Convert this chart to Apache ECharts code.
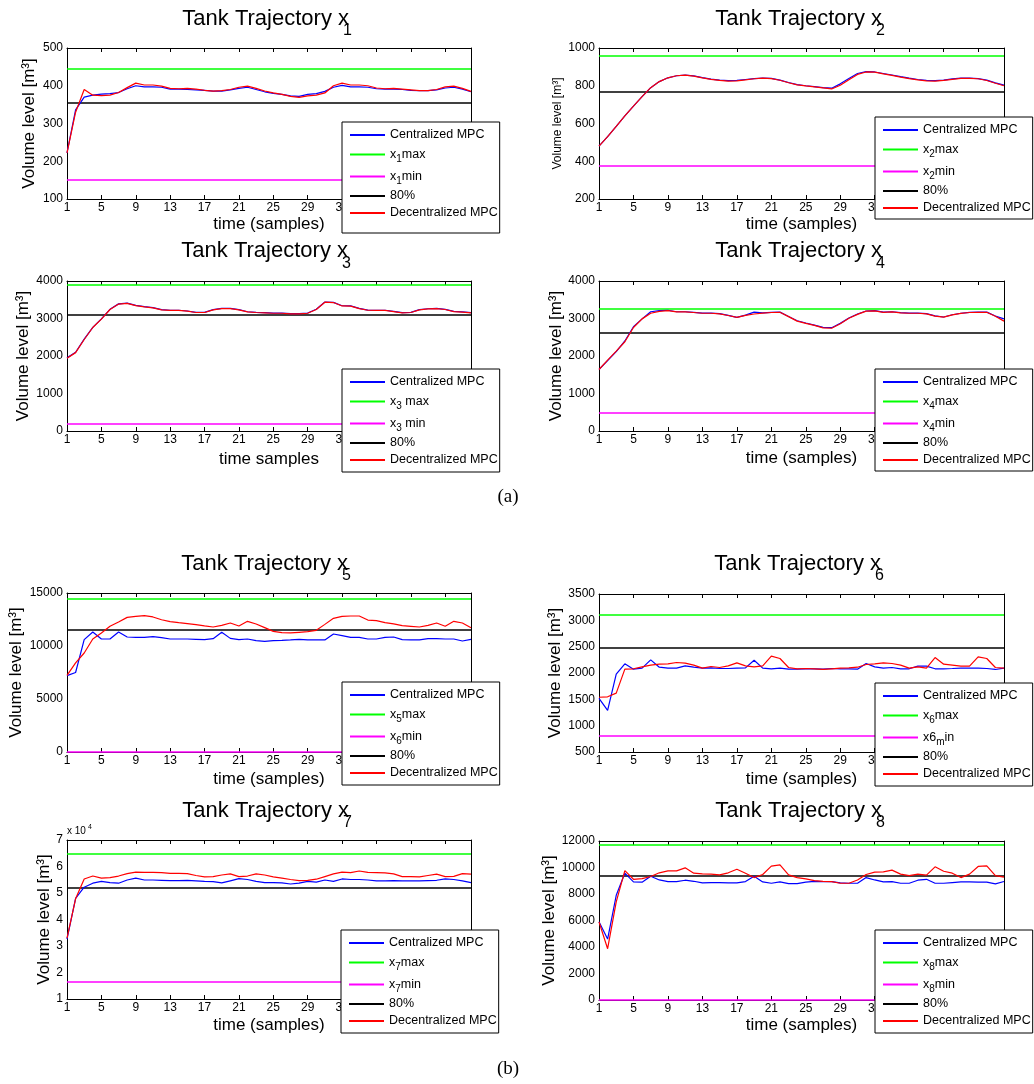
<!DOCTYPE html>
<html><head><meta charset="utf-8">
<script src="https://cdn.jsdelivr.net/npm/echarts@6/dist/echarts.min.js"></script>
<style>html,body{margin:0;padding:0;background:#fff}#c{width:1034px;height:1084px}</style>
</head><body><div id="c"></div>
<script>
// ---------------- data ----------------
const samples = ['1','2','3','4','5','6','7','8','9','10','11','12','13','14','15','16','17','18','19','20','21','22','23','24','25','26','27','28','29','30','31','32','33','34','35','36','37','38','39','40','41','42','43','44','45','46','47','48'];

const cen1 = [222,336,370,375,378,379,382,392,400,397,397,396,391,391,390,389,388,386,386,389,393,396,390,384,380,377,373,372,377,379,385,396,401,397,397,396,392,391,391,390,388,387,387,389,394,396,391,384];
const dec1 = [222,330,390,375,374,375,382,395,407,402,402,399,393,392,393,391,388,386,387,390,396,399,393,386,381,377,372,369,373,375,381,400,407,402,402,400,394,392,393,391,389,387,387,390,397,399,393,385];

const cen2 = [480,530,585,640,692,742,790,822,842,853,856,852,843,835,830,827,828,833,838,840,839,830,817,806,800,795,790,787,810,838,865,875,873,865,857,848,840,833,828,827,830,836,840,840,838,830,815,803];
const dec2 = [480,530,585,640,692,742,790,822,842,853,856,851,842,834,828,825,826,831,837,840,838,829,816,805,799,794,789,783,803,832,860,873,872,863,855,846,838,831,826,825,828,834,839,839,837,828,813,800];

const cen3 = [1950,2100,2450,2765,2990,3245,3390,3410,3350,3315,3290,3235,3220,3220,3200,3165,3165,3235,3270,3270,3235,3180,3165,3155,3145,3145,3130,3130,3145,3245,3440,3430,3340,3335,3270,3225,3220,3220,3190,3155,3165,3235,3260,3270,3245,3190,3175,3155];
const dec3 = [1940,2090,2440,2760,2985,3240,3385,3405,3345,3310,3285,3230,3215,3215,3195,3160,3160,3230,3265,3265,3230,3175,3160,3150,3140,3140,3125,3125,3140,3240,3435,3425,3335,3330,3265,3220,3215,3215,3185,3150,3160,3230,3255,3265,3240,3185,3170,3150];

const cen4 = [1640,1875,2115,2400,2780,2990,3180,3210,3220,3180,3180,3165,3145,3145,3130,3085,3030,3090,3170,3150,3165,3170,3055,2940,2880,2825,2765,2755,2870,3015,3120,3200,3210,3170,3180,3155,3145,3145,3130,3070,3040,3100,3140,3165,3170,3170,3065,2990];
const dec4 = [1640,1890,2130,2380,2760,2990,3140,3190,3210,3175,3175,3160,3140,3140,3125,3080,3030,3085,3120,3145,3160,3165,3050,2930,2870,2815,2750,2740,2860,3005,3110,3195,3205,3165,3175,3150,3140,3140,3125,3065,3035,3095,3135,3160,3165,3165,3060,2930];

const cen5 = [7200,7500,10600,11320,10660,10660,11320,10850,10820,10820,10880,10790,10660,10660,10660,10630,10600,10690,11290,10720,10600,10660,10500,10440,10500,10530,10570,10630,10570,10570,10570,11130,10980,10820,10820,10660,10660,10820,10850,10600,10570,10570,10690,10690,10660,10660,10470,10630];
const dec5 = [7230,8400,9340,10660,11230,11860,12260,12700,12800,12860,12740,12480,12300,12200,12110,12010,11890,11790,11950,12170,11890,12330,12080,11730,11380,11260,11230,11290,11350,11480,12040,12610,12800,12830,12830,12450,12390,12200,12080,11920,11860,11790,11950,12170,11860,12330,12170,11730];

const cen6 = [1520,1290,1978,2174,2073,2092,2250,2110,2092,2092,2136,2110,2092,2098,2085,2085,2092,2098,2243,2092,2080,2092,2073,2073,2080,2080,2073,2085,2080,2080,2073,2180,2117,2092,2104,2080,2080,2130,2130,2080,2080,2085,2092,2092,2092,2085,2067,2092];
const dec6 = [1540,1548,1618,2073,2080,2117,2149,2168,2174,2199,2187,2149,2092,2123,2104,2136,2193,2136,2117,2136,2319,2275,2104,2080,2085,2080,2067,2080,2092,2098,2110,2161,2174,2193,2180,2149,2092,2117,2092,2294,2168,2149,2130,2130,2306,2275,2104,2092];

const cen7 = [32600,48000,52200,53700,54400,53900,53700,54900,55600,54900,54900,54800,54700,54700,54800,54600,54400,54300,53800,54600,55400,55100,54400,53900,53900,53800,53400,53700,54400,54100,54900,54400,55300,55100,55100,54900,54600,54600,54700,54600,54600,54600,54700,54800,55300,55100,54600,53900];
const dec7 = [33000,47800,55300,56400,55600,55800,56400,57300,57900,57800,57800,57700,57400,57400,57300,56600,56100,56200,56800,57200,56200,56400,57200,56800,56100,55600,55100,54700,54800,55200,56200,57200,57900,57700,58300,57800,57700,57600,57200,56200,56200,56100,56600,57100,56200,56300,57300,57100];

const cen8 = [5900,4600,7900,9570,8910,8890,9340,9060,8940,8940,9040,8960,8835,8860,8860,8835,8835,8940,9340,8910,8810,8910,8785,8785,8890,8960,8940,8940,8835,8810,8810,9240,9060,8910,8940,8810,8810,9040,9110,8810,8810,8860,8910,8910,8890,8890,8760,8940];
const dec8 = [5900,3870,7400,9770,9110,9165,9320,9600,9750,9750,9975,9570,9520,9500,9440,9600,9870,9570,9240,9470,10100,10200,9440,9240,9140,9010,8960,8940,8810,8810,9060,9470,9645,9670,9800,9500,9390,9500,9420,10050,9720,9570,9240,9500,10080,10130,9390,9270];

const maxLevels = [445, 960, 3890, 3260, 14430, 3100, 65000, 11750];
const minLevels = [150, 378, 200, 480, 0, 800, 16500, 0];
const level80   = [356, 768, 3112, 2608, 11544, 2480, 52000, 9400];

const yMins  = [100, 200, 0, 0, 0, 500, 10000, 0];
const yMaxs  = [500, 1000, 4000, 4000, 15000, 3500, 70000, 12000];
const ySteps = [100, 200, 1000, 1000, 5000, 500, 10000, 2000];

const titleTexts = ['Tank Trajectory x','Tank Trajectory x','Tank Trajectory x','Tank Trajectory x','Tank Trajectory x','Tank Trajectory x','Tank Trajectory x','Tank Trajectory x'];
const titleSubs  = ['1','2','3','4','5','6','7','8'];
const xNames = ['time (samples)','time (samples)','time samples','time (samples)','time (samples)','time (samples)','time (samples)','time (samples)'];
const yName = 'Volume level [m\u00B3]';
const nameCen = 'Centralized MPC', nameDec = 'Decentralized MPC', name80 = '80%';
const maxNames = ['x1max','x2max','x3max','x4max','x5max','x6max','x7max','x8max'];
const minNames = ['x1min','x2min','x3min','x4min','x5min','x6min','x7min','x8min'];
const legendLabels = {
  x1max:'{n|x}{s|1}{n|max}', x1min:'{n|x}{s|1}{n|min}',
  x2max:'{n|x}{s|2}{n|max}', x2min:'{n|x}{s|2}{n|min}',
  x3max:'{n|x}{s|3}{n| max}', x3min:'{n|x}{s|3}{n| min}',
  x4max:'{n|x}{s|4}{n|max}', x4min:'{n|x}{s|4}{n|min}',
  x5max:'{n|x}{s|5}{n|max}', x5min:'{n|x}{s|6}{n|min}',
  x6max:'{n|x}{s|6}{n|max}', x6min:'{n|x6}{s|m}{n|in}',
  x7max:'{n|x}{s|7}{n|max}', x7min:'{n|x}{s|7}{n|min}',
  x8max:'{n|x}{s|8}{n|max}', x8min:'{n|x}{s|8}{n|min}'
};
const cenData = [cen1,cen2,cen3,cen4,cen5,cen6,cen7,cen8];
const decData = [dec1,dec2,dec3,dec4,dec5,dec6,dec7,dec8];

// ---------------- layout ----------------
const FONT = "'Liberation Sans', Arial, Helvetica, sans-serif";
const BLUE='#0000ff', RED='#ff0000', GREEN='#00ff00', MAG='#ff00ff', BLACK='#000000';
const grids = [
  {left:67, top:48, width:404, height:151},
  {left:599, top:48, width:405, height:151},
  {left:67, top:281, width:404, height:150},
  {left:599, top:281, width:405, height:150},
  {left:67, top:593, width:404, height:159},
  {left:599, top:594, width:405, height:158},
  {left:67, top:840, width:404, height:159},
  {left:599, top:841, width:405, height:159}
];
const yNameGaps = [29, 35, 35, 34, 42, 35, 14, 40];
const yNameSizes = [17, 12, 17, 17, 17, 17, 17, 17];
const xNameGaps = [17, 17, 20, 19, 19, 19, 18, 17];
const legendPos = [
  {left:342, top:122, pb:13},{left:875, top:117, pb:4},
  {left:342, top:369, pb:5},{left:875, top:369, pb:4},
  {left:342, top:682, pb:5},{left:875, top:683, pb:5},
  {left:341, top:930, pb:5},{left:875, top:930, pb:5}
];
const titlePos = [
  {r:349, b:26.7},{r:882, b:26.7},{r:348, b:259},{r:882, b:259},
  {r:348, b:571.7},{r:881, b:571.7},{r:349, b:818.5},{r:882, b:818.5}
];

const xAxes=[], yAxes=[], series=[], legends=[], graphics=[];
const tickStyle = {inside:true, length:4, lineStyle:{color:BLACK, width:1}};
const lineAx = {show:true, onZero:false, lineStyle:{color:BLACK, width:1}};

for (let i=0;i<8;i++){
  xAxes.push({type:'category', gridIndex:i, data:samples, boundaryGap:false, position:'bottom',
    axisLine:lineAx, axisTick:Object.assign({interval:3}, tickStyle),
    axisLabel:{interval:3, margin:3, fontSize:12, color:BLACK, fontFamily:FONT},
    splitLine:{show:false},
    name:xNames[i], nameLocation:'middle', nameGap:xNameGaps[i],
    nameTextStyle:{fontSize:17, color:BLACK, fontFamily:FONT}});
  xAxes.push({type:'category', gridIndex:i, data:samples, boundaryGap:false, position:'top',
    axisLine:lineAx, axisTick:Object.assign({interval:3}, tickStyle),
    axisLabel:{show:false}, splitLine:{show:false}});
  yAxes.push({type:'value', gridIndex:i, min:yMins[i], max:yMaxs[i], interval:ySteps[i], position:'left',
    axisLine:lineAx, axisTick:tickStyle,
    axisLabel:{margin:4, fontSize:12, color:BLACK, fontFamily:FONT,
      formatter: i===6 ? (v)=>String(v/10000) : (v)=>String(v)},
    splitLine:{show:false},
    name:yName, nameLocation:'middle', nameGap:yNameGaps[i],
    nameTextStyle:{fontSize:yNameSizes[i], color:BLACK, fontFamily:FONT}});
  yAxes.push({type:'value', gridIndex:i, min:yMins[i], max:yMaxs[i], interval:ySteps[i], position:'right',
    axisLine:lineAx, axisTick:tickStyle, axisLabel:{show:false}, splitLine:{show:false}});

  const xi = 2*i, yi = 2*i;
  series.push({name:nameCen, type:'line', xAxisIndex:xi, yAxisIndex:yi, data:cenData[i],
    symbol:'none', color:BLUE, lineStyle:{color:BLUE, width:1.2}, z:3});
  const bound = (nm, val, col) => ({name:nm, type:'line', xAxisIndex:xi, yAxisIndex:yi, data:[],
    symbol:'none', color:col, lineStyle:{color:col, width:1.5}, z:2,
    markLine:{silent:true, z:2, symbol:['none','none'], label:{show:false}, animation:false,
      lineStyle:{color:col, width:1.5, type:'solid'}, data:[{yAxis:val}]}});
  series.push(bound(maxNames[i], maxLevels[i], GREEN));
  series.push(bound(minNames[i], minLevels[i], MAG));
  series.push(bound(name80, level80[i], BLACK));
  series.push({name:nameDec, type:'line', xAxisIndex:xi, yAxisIndex:yi, data:decData[i],
    symbol:'none', color:RED, lineStyle:{color:RED, width:1.2}, z:4});

  const L = legendPos[i];
  legends.push({data:[nameCen, maxNames[i], minNames[i], name80, nameDec], z:20,
    orient:'vertical', left:L.left, top:L.top, padding:[6,2,L.pb,8], itemGap:3,
    itemWidth:35, itemHeight:1.8, icon:'rect', selectedMode:false,
    borderColor:BLACK, borderWidth:1, backgroundColor:'#ffffff', borderRadius:0,
    formatter:(nm)=>legendLabels[nm] || nm,
    textStyle:{fontSize:12.5, color:BLACK, fontFamily:FONT, lineHeight:14,
      rich:{n:{fontSize:12.5, lineHeight:14, color:BLACK, fontFamily:FONT},
            s:{fontSize:10, lineHeight:14, color:BLACK, fontFamily:FONT, padding:[9,0,0,0]}}}});

  const T = titlePos[i];
  graphics.push({type:'text', x:T.r, y:T.b - 0.35*22, z:10,
    style:{text:titleTexts[i], fontSize:22, fontFamily:FONT, fill:BLACK,
      align:'right', verticalAlign:'middle', textAlign:'right', textVerticalAlign:'middle'}});
  graphics.push({type:'text', x:T.r - 6, y:T.b + 9.7 - 0.35*16, z:10,
    style:{text:titleSubs[i], fontSize:16, fontFamily:FONT, fill:BLACK,
      align:'left', verticalAlign:'middle', textAlign:'left', textVerticalAlign:'middle'}});
}

graphics.push({type:'text', x:67, y:831, z:10, style:{text:'x 10', fontSize:10, fontFamily:FONT, fill:BLACK,
  align:'left', verticalAlign:'middle', textAlign:'left', textVerticalAlign:'middle'}});
graphics.push({type:'text', x:88, y:827, z:10, style:{text:'4', fontSize:7, fontFamily:FONT, fill:BLACK,
  align:'left', verticalAlign:'middle', textAlign:'left', textVerticalAlign:'middle'}});
graphics.push({type:'text', x:508, y:497, z:10, style:{text:'(a)', fontSize:19, fontFamily:"'Liberation Serif', 'DejaVu Serif', serif", fill:BLACK,
  align:'center', verticalAlign:'middle', textAlign:'center', textVerticalAlign:'middle'}});
graphics.push({type:'text', x:508, y:1069, z:10, style:{text:'(b)', fontSize:19, fontFamily:"'Liberation Serif', 'DejaVu Serif', serif", fill:BLACK,
  align:'center', verticalAlign:'middle', textAlign:'center', textVerticalAlign:'middle'}});

const chart = echarts.init(document.getElementById('c'), null, {renderer:'canvas'});
chart.setOption({
  animation:false,
  backgroundColor:'#ffffff',
  textStyle:{fontFamily:FONT},
  grid: grids.map(g => Object.assign({containLabel:false, outerBoundsMode:'none', show:false}, g)),
  xAxis:xAxes, yAxis:yAxes, series:series, legend:legends, graphic:graphics
});
</script></body></html>
